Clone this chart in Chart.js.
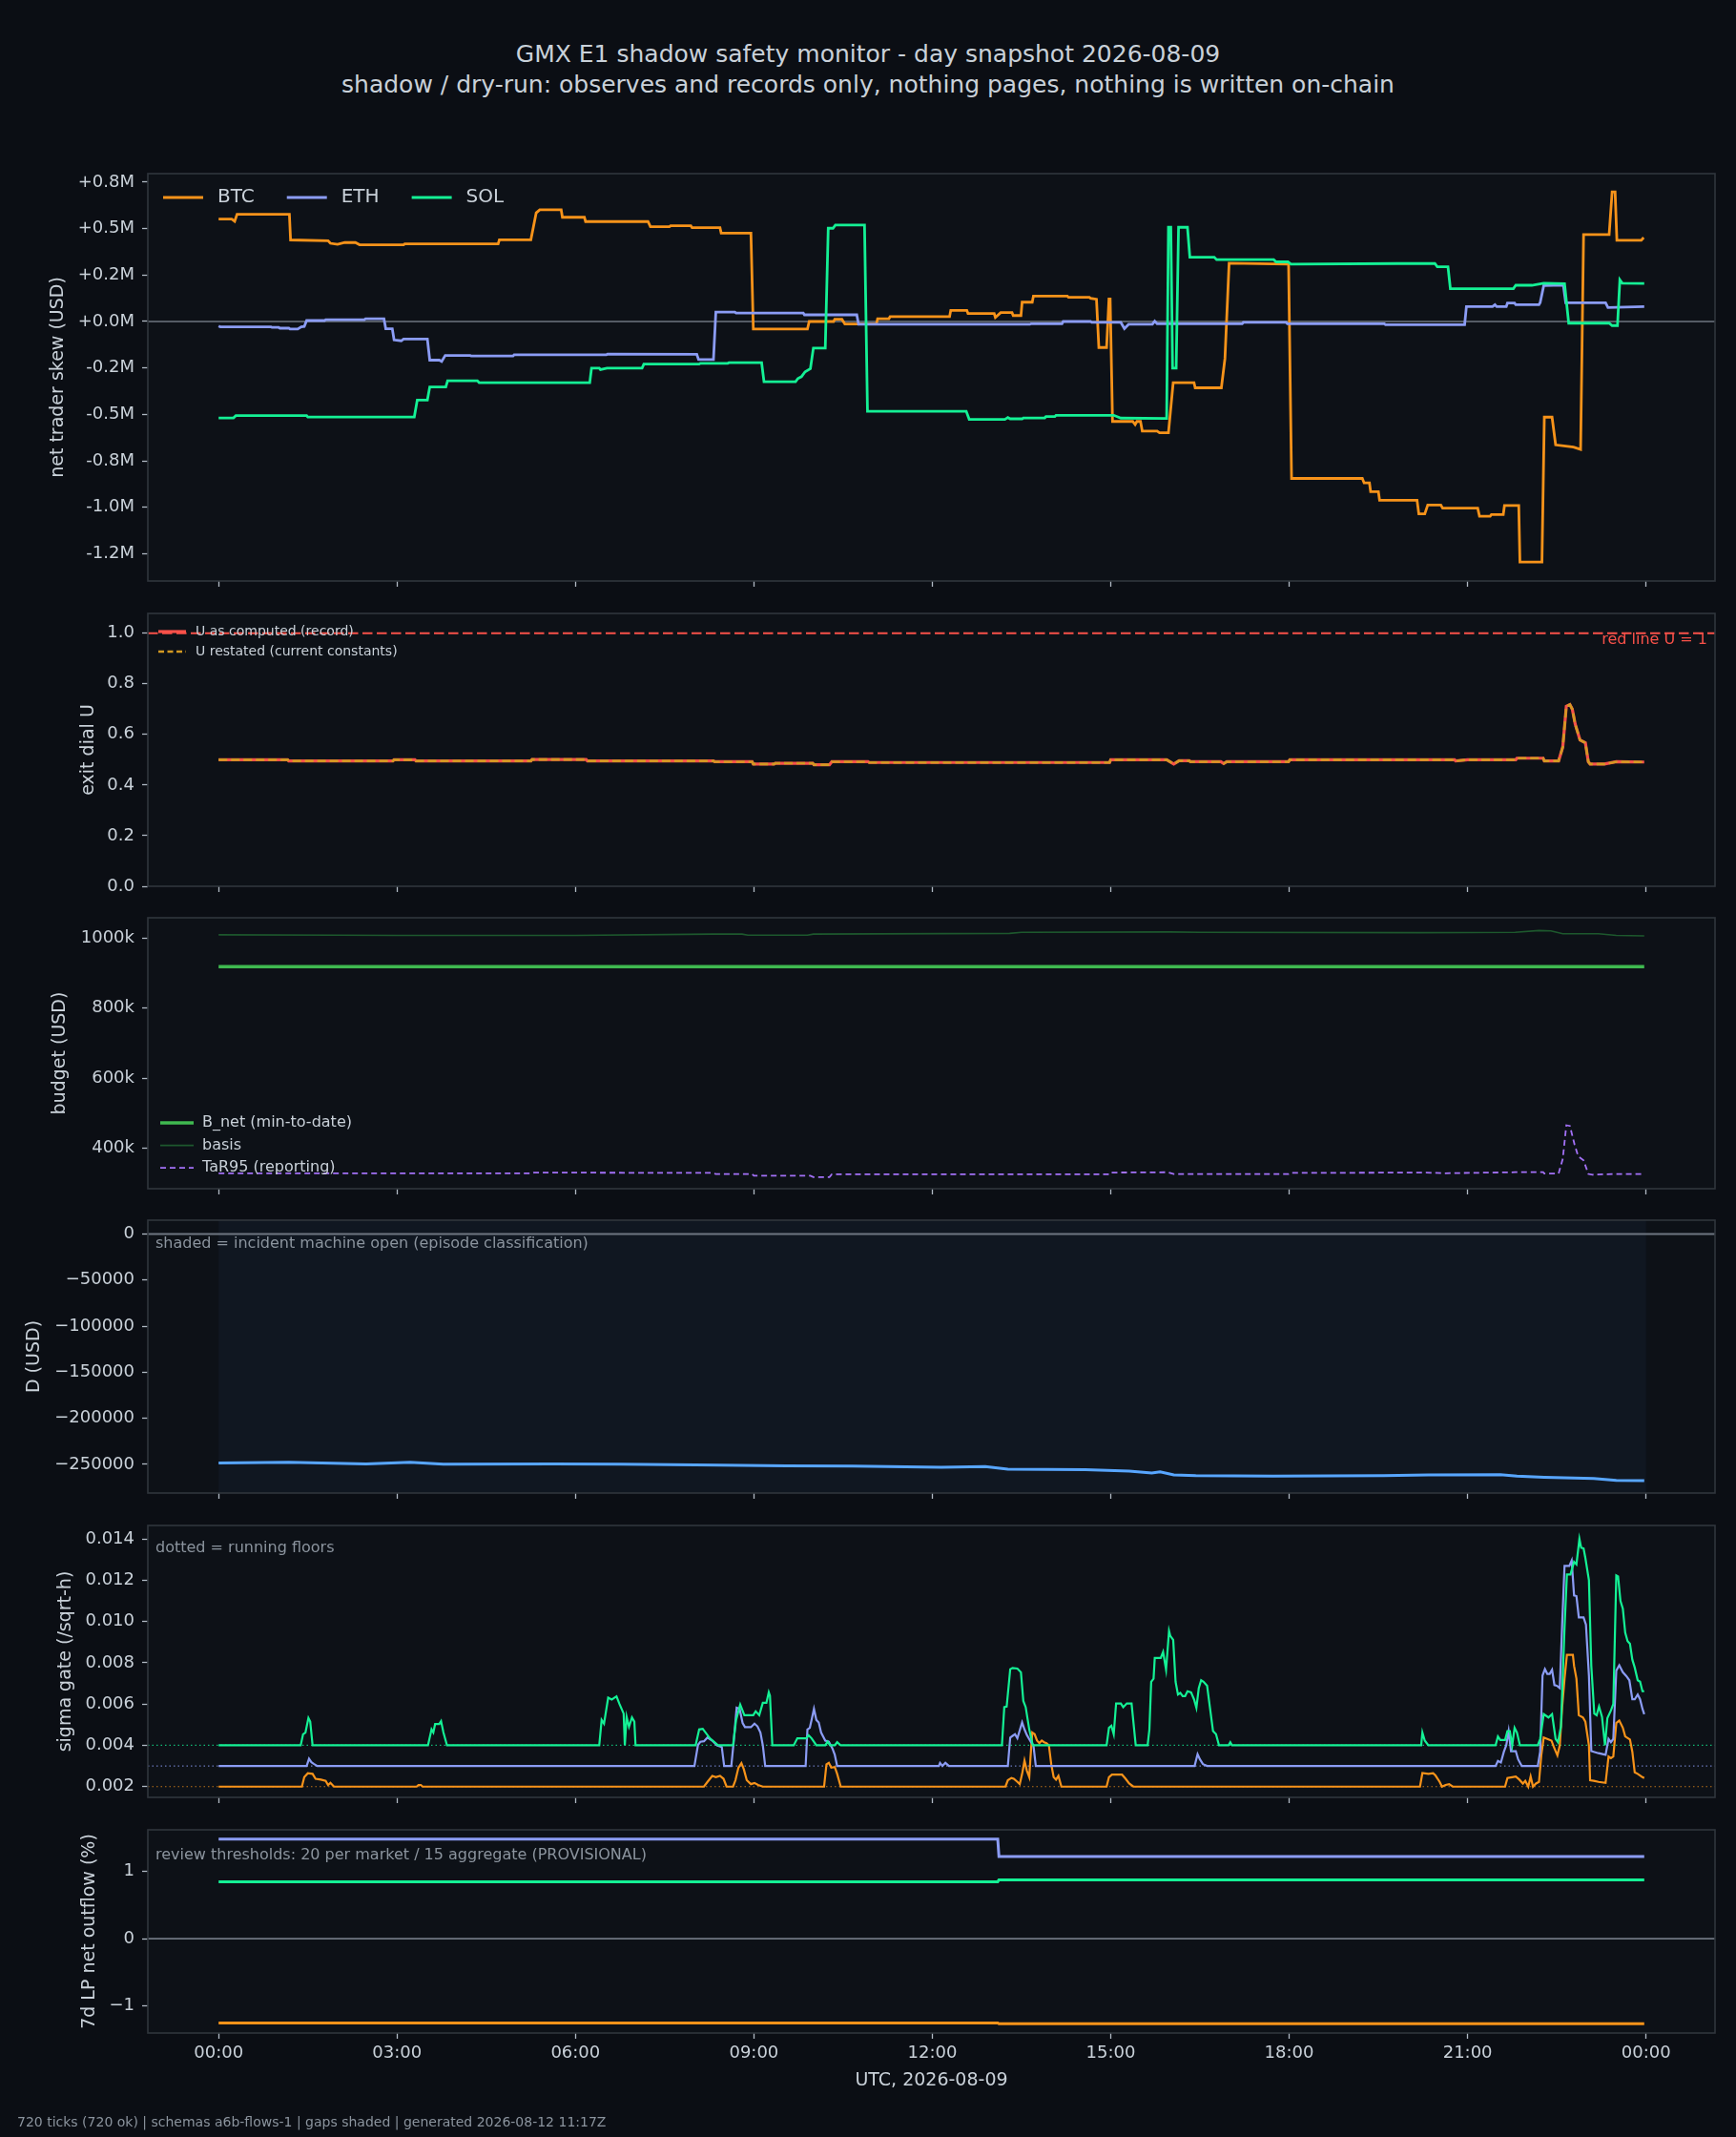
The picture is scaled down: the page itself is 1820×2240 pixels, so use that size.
<!DOCTYPE html>
<html lang="en">
<head>
<meta charset="UTF-8">
<title>GMX E1 shadow safety monitor</title>
<script src="https://cdn.jsdelivr.net/npm/chart.js"></script>
<style>
    body {
        margin: 0;
        width: 1820px;
        height: 2240px;
        position: relative;
        overflow: hidden;
        background: #0b0e14;
        font-family: "DejaVu Sans", sans-serif;
    }
    .title {
        position: absolute;
        left: 0;
        width: 1820px;
        text-align: center;
        color: #c9d1d9;
        font-size: 25px;
        line-height: 29px;
    }
    canvas {
        position: absolute;
        left: 0;
    }
    #footer {
        position: absolute;
        left: 18px;
        top: 2216px;
        font-size: 14px;
        line-height: 16px;
        color: #8b949e;
    }
</style>
</head>
<body>

<div class="title" style="top:42px">GMX E1 shadow safety monitor - day snapshot 2026-08-09</div>
<div class="title" style="top:74px">shadow / dry-run: observes and records only, nothing pages, nothing is written on-chain</div>

<canvas id="pSkew"></canvas>
<canvas id="pDial"></canvas>
<canvas id="pBudget"></canvas>
<canvas id="pD"></canvas>
<canvas id="pSigma"></canvas>
<canvas id="pFlow"></canvas>

<div id="footer">720 ticks (720 ok) | schemas a6b-flows-1 | gaps shaded | generated 2026-08-12 11:17Z</div>

<script>
// ---- data: [hour of day, value] ----

const timeTicks = [0, 3, 6, 9, 12, 15, 18, 21, 24];
const timeTickLabels = ['00:00', '03:00', '06:00', '09:00', '12:00', '15:00', '18:00', '21:00', '00:00'];

// net trader skew, millions of USD
const skewTicks = [0.75, 0.5, 0.25, 0, -0.25, -0.5, -0.75, -1.0, -1.25];
const skewTickLabels = ['+0.8M', '+0.5M', '+0.2M', '+0.0M', '-0.2M', '-0.5M', '-0.8M', '-1.0M', '-1.2M'];

const btcSkew = [
    [0, 0.551], [0.22, 0.551], [0.27, 0.539], [0.31, 0.577], [1.19, 0.577], [1.21, 0.439],
    [1.84, 0.435], [1.88, 0.421], [2.00, 0.415], [2.12, 0.425], [2.30, 0.425], [2.37, 0.413],
    [3.11, 0.413], [3.13, 0.418], [4.70, 0.418], [4.72, 0.440], [5.25, 0.440], [5.34, 0.585],
    [5.40, 0.601], [5.76, 0.601], [5.78, 0.561], [6.15, 0.561], [6.17, 0.538], [7.22, 0.538],
    [7.26, 0.510], [7.58, 0.510], [7.60, 0.515], [7.94, 0.515], [7.96, 0.505], [8.43, 0.505],
    [8.45, 0.476], [8.95, 0.476], [8.99, -0.041], [9.90, -0.041], [9.93, 0.0], [10.34, 0.0],
    [10.36, 0.012], [10.48, 0.012], [10.53, -0.014], [11.06, -0.014], [11.08, 0.015], [11.27, 0.015],
    [11.29, 0.026], [12.29, 0.026], [12.31, 0.060], [12.58, 0.060], [12.60, 0.043], [13.04, 0.043],
    [13.06, 0.022], [13.15, 0.048], [13.34, 0.048], [13.36, 0.032], [13.49, 0.032], [13.51, 0.104],
    [13.68, 0.104], [13.70, 0.137], [14.27, 0.137], [14.29, 0.130], [14.64, 0.130], [14.66, 0.125],
    [14.76, 0.120], [14.80, -0.140], [14.93, -0.140], [14.97, 0.121], [14.99, 0.121], [15.03, -0.538],
    [15.37, -0.538], [15.41, -0.555], [15.44, -0.538], [15.50, -0.538], [15.53, -0.590], [15.78, -0.590],
    [15.82, -0.599], [15.97, -0.599], [16.05, -0.329], [16.40, -0.329], [16.42, -0.357], [16.86, -0.357],
    [16.92, -0.200], [16.99, 0.314], [17.99, 0.309], [18.04, -0.845], [19.23, -0.845], [19.26, -0.869],
    [19.35, -0.869], [19.37, -0.916], [19.50, -0.916], [19.52, -0.962], [20.15, -0.962], [20.18, -1.036],
    [20.28, -1.036], [20.33, -0.988], [20.55, -0.988], [20.58, -1.005], [21.17, -1.005], [21.20, -1.048],
    [21.38, -1.048], [21.40, -1.039], [21.60, -1.039], [21.62, -0.991], [21.86, -0.991], [21.88, -1.295],
    [22.25, -1.295], [22.29, -0.515], [22.42, -0.515], [22.48, -0.664], [22.78, -0.676], [22.90, -0.689],
    [22.95, 0.468], [23.38, 0.468], [23.43, 0.698], [23.48, 0.698], [23.51, 0.437], [23.92, 0.437],
    [23.96, 0.452], [23.97, 0.452]
];
const ethSkew = [
    [0, -0.024], [0.03, -0.029], [0.88, -0.029], [0.90, -0.032], [1.01, -0.032], [1.03, -0.036],
    [1.18, -0.036], [1.20, -0.041], [1.33, -0.041], [1.39, -0.029], [1.44, -0.027], [1.48, 0.005],
    [1.78, 0.005], [1.80, 0.010], [2.45, 0.010], [2.47, 0.015], [2.78, 0.015], [2.81, -0.039],
    [2.92, -0.039], [2.95, -0.099], [3.07, -0.104], [3.11, -0.094], [3.51, -0.094], [3.55, -0.208],
    [3.71, -0.208], [3.75, -0.215], [3.81, -0.183], [4.23, -0.183], [4.25, -0.186], [4.95, -0.186],
    [4.97, -0.179], [6.52, -0.179], [6.54, -0.176], [8.04, -0.177], [8.07, -0.205], [8.32, -0.205],
    [8.36, 0.051], [8.68, 0.051], [8.70, 0.046], [9.83, 0.046], [9.85, 0.036], [10.73, 0.036],
    [10.76, -0.015], [13.64, -0.015], [13.66, -0.012], [14.18, -0.012], [14.20, 0.0], [14.66, 0.0],
    [14.68, -0.005], [15.17, -0.005], [15.23, -0.038], [15.30, -0.015], [15.70, -0.015], [15.74, 0.002],
    [15.78, -0.012], [17.21, -0.012], [17.23, -0.005], [17.95, -0.005], [17.97, -0.012], [19.60, -0.012],
    [19.62, -0.017], [20.95, -0.017], [20.98, 0.080], [21.42, 0.080], [21.46, 0.090], [21.49, 0.080],
    [21.65, 0.080], [21.67, 0.099], [21.79, 0.099], [21.81, 0.090], [22.20, 0.090], [22.22, 0.101],
    [22.28, 0.193], [22.61, 0.196], [22.65, 0.101], [23.32, 0.101], [23.36, 0.075], [23.97, 0.080]
];
const solSkew = [
    [0, -0.519], [0.25, -0.519], [0.29, -0.507], [1.48, -0.507], [1.50, -0.514], [3.29, -0.514],
    [3.34, -0.423], [3.51, -0.423], [3.55, -0.352], [3.82, -0.352], [3.85, -0.319], [4.35, -0.319],
    [4.38, -0.329], [6.24, -0.329], [6.27, -0.251], [6.40, -0.251], [6.42, -0.259], [6.53, -0.251],
    [7.12, -0.251], [7.15, -0.229], [8.08, -0.229], [8.10, -0.225], [8.56, -0.225], [8.58, -0.222],
    [9.13, -0.222], [9.17, -0.324], [9.70, -0.324], [9.74, -0.307], [9.80, -0.297], [9.86, -0.271],
    [9.95, -0.254], [10.00, -0.143], [10.20, -0.143], [10.25, 0.502], [10.33, 0.502], [10.37, 0.519],
    [10.86, 0.519], [10.91, -0.483], [12.57, -0.483], [12.62, -0.527], [13.22, -0.527], [13.27, -0.517],
    [13.31, -0.524], [13.51, -0.524], [13.53, -0.519], [13.89, -0.519], [13.91, -0.512], [14.06, -0.512],
    [14.08, -0.505], [15.05, -0.505], [15.17, -0.520], [15.94, -0.522], [15.97, 0.507], [16.01, 0.507],
    [16.04, -0.251], [16.10, -0.251], [16.14, 0.507], [16.29, 0.507], [16.33, 0.346], [16.74, 0.346],
    [16.78, 0.333], [17.74, 0.333], [17.78, 0.321], [17.98, 0.321], [18.03, 0.309], [19.82, 0.312],
    [20.45, 0.312], [20.49, 0.295], [20.67, 0.295], [20.71, 0.177], [21.77, 0.177], [21.81, 0.195],
    [22.08, 0.195], [22.28, 0.206], [22.63, 0.203], [22.70, -0.009], [23.38, -0.009], [23.43, -0.022],
    [23.52, -0.022], [23.56, 0.224], [23.60, 0.206], [23.97, 0.205]
];

// exit dial U
const dialTicks = [0, 0.2, 0.4, 0.6, 0.8, 1.0];
const dialTickLabels = ['0.0', '0.2', '0.4', '0.6', '0.8', '1.0'];
const redLineU = 1;
const uRecord = [
    [0, 0.500], [1.16, 0.500], [1.18, 0.495], [2.93, 0.495], [2.95, 0.500], [3.30, 0.500],
    [3.32, 0.495], [5.25, 0.495], [5.27, 0.501], [6.18, 0.501], [6.20, 0.495], [8.32, 0.495],
    [8.34, 0.492], [8.97, 0.492], [8.99, 0.483], [9.34, 0.483], [9.36, 0.486], [9.99, 0.486],
    [10.01, 0.480], [10.27, 0.480], [10.31, 0.492], [10.92, 0.492], [10.94, 0.489], [14.98, 0.489],
    [15.00, 0.500], [15.94, 0.500], [16.06, 0.483], [16.15, 0.496], [16.32, 0.496], [16.34, 0.492],
    [16.85, 0.492], [16.90, 0.485], [16.95, 0.492], [17.99, 0.492], [18.01, 0.500], [20.78, 0.500],
    [20.80, 0.495], [21.00, 0.500], [21.81, 0.500], [21.83, 0.506], [22.27, 0.506], [22.29, 0.495],
    [22.53, 0.495], [22.60, 0.550], [22.66, 0.711], [22.72, 0.718], [22.76, 0.700], [22.81, 0.640],
    [22.89, 0.578], [22.98, 0.567], [23.03, 0.492], [23.06, 0.483], [23.30, 0.483], [23.50, 0.492],
    [23.97, 0.491]
];
const uRestated = uRecord; // restated values coincide with the record on this day

// budget, thousands of USD
const budgetTicks = [400, 600, 800, 1000];
const budgetTickLabels = ['400k', '600k', '800k', '1000k'];
const bNet = [[0, 918], [23.97, 918]];
const basis = [
    [0, 1009], [2.0, 1008], [3.0, 1007], [6.0, 1007], [8.3, 1011], [8.8, 1011], [8.9, 1008],
    [9.9, 1008], [10.0, 1011], [13.3, 1013], [13.5, 1016], [16.0, 1017], [16.5, 1016], [20.2, 1015],
    [21.8, 1016], [22.2, 1021], [22.4, 1020], [22.6, 1012], [23.2, 1012], [23.5, 1007], [23.97, 1006]
];
const tar95 = [
    [0, 329], [5.27, 329], [5.30, 331], [8.30, 330], [8.36, 327], [8.97, 327], [9.00, 322],
    [9.95, 322], [10.00, 318], [10.27, 318], [10.31, 326], [14.98, 326], [15.00, 331], [15.96, 332],
    [16.06, 327], [17.99, 327], [18.01, 330], [20.30, 331], [20.60, 329], [21.80, 332], [22.27, 332],
    [22.29, 328], [22.53, 328], [22.60, 370], [22.66, 466], [22.72, 464], [22.80, 410], [22.86, 377],
    [22.95, 366], [23.03, 327], [23.10, 325], [23.50, 327], [23.97, 327]
];

// D, USD
const dTicks = [0, -50000, -100000, -150000, -200000, -250000];
const dTickLabels = ['0', '\u221250000', '\u2212100000', '\u2212150000', '\u2212200000', '\u2212250000'];
const incidentOpen = [0, 24];
const dSeries = [
    [0, -248600], [1.18, -247800], [2.48, -249400], [3.22, -247800], [3.78, -249800], [5.64, -249400],
    [6.76, -249800], [8.43, -250700], [9.55, -251500], [10.66, -251900], [12.15, -253200], [12.89, -252400],
    [13.27, -255300], [14.57, -255700], [14.94, -256500], [15.31, -257300], [15.69, -259400], [15.83, -258200],
    [16.06, -261500], [16.43, -262300], [17.73, -262700], [19.59, -262300], [20.34, -261500], [21.55, -261100],
    [21.83, -262700], [22.29, -264000], [23.12, -265200], [23.50, -267300], [23.97, -267700]
];

// sigma gate, /sqrt-h
const sigmaTicks = [0.002, 0.004, 0.006, 0.008, 0.010, 0.012, 0.014];
const sigmaTickLabels = ['0.002', '0.004', '0.006', '0.008', '0.010', '0.012', '0.014'];
const btcFloor = 0.002, ethFloor = 0.003, solFloor = 0.004;
const btcSigma = [
    [0, 0.002], [1.40, 0.002], [1.44, 0.00246], [1.50, 0.00265], [1.58, 0.00262], [1.63, 0.00238],
    [1.72, 0.00234], [1.80, 0.00228], [1.84, 0.00208], [1.88, 0.00218], [1.94, 0.002],
    [3.33, 0.002], [3.36, 0.00208], [3.40, 0.00208], [3.43, 0.002],
    [8.16, 0.002], [8.22, 0.00223], [8.30, 0.00252], [8.36, 0.00246], [8.43, 0.00252], [8.49, 0.00238],
    [8.54, 0.002], [8.65, 0.002], [8.69, 0.00231], [8.74, 0.00292], [8.79, 0.00314], [8.83, 0.00285],
    [8.88, 0.00231], [8.95, 0.00212], [9.01, 0.00218], [9.07, 0.00208], [9.15, 0.002],
    [10.18, 0.002], [10.22, 0.00308], [10.26, 0.00315], [10.30, 0.00292], [10.36, 0.00295], [10.40, 0.00262],
    [10.46, 0.002],
    [13.23, 0.002], [13.27, 0.00231], [13.33, 0.00242], [13.37, 0.00238], [13.43, 0.00223], [13.47, 0.00212],
    [13.51, 0.00262], [13.55, 0.00326], [13.59, 0.00277], [13.63, 0.00246], [13.65, 0.00338], [13.68, 0.00462],
    [13.72, 0.00454], [13.76, 0.00423], [13.80, 0.00411], [13.84, 0.00423], [13.88, 0.00415], [13.92, 0.00411],
    [13.96, 0.004], [14.00, 0.00308], [14.04, 0.00246], [14.08, 0.00234], [14.12, 0.00252], [14.17, 0.002],
    [14.93, 0.002], [14.97, 0.00246], [15.02, 0.00258], [15.19, 0.00258], [15.25, 0.00238], [15.31, 0.00215],
    [15.38, 0.002],
    [20.20, 0.002], [20.24, 0.00266], [20.34, 0.00262], [20.42, 0.00265], [20.46, 0.00254], [20.53, 0.00223],
    [20.57, 0.002], [20.63, 0.00208], [20.69, 0.00212], [20.75, 0.002],
    [21.63, 0.002], [21.67, 0.00242], [21.75, 0.00246], [21.81, 0.00249], [21.87, 0.00234], [21.93, 0.00215],
    [21.97, 0.00228], [22.02, 0.002], [22.06, 0.00249], [22.10, 0.002], [22.15, 0.00215], [22.20, 0.00223],
    [22.24, 0.00354], [22.28, 0.00438], [22.34, 0.00431], [22.41, 0.00423], [22.45, 0.00392], [22.51, 0.00351],
    [22.55, 0.004], [22.59, 0.00585], [22.63, 0.00723], [22.67, 0.00838], [22.77, 0.00838], [22.79, 0.00785],
    [22.83, 0.00723], [22.87, 0.00546], [22.94, 0.00535], [22.98, 0.00515], [23.04, 0.004], [23.06, 0.00231],
    [23.12, 0.00228], [23.20, 0.00223], [23.32, 0.00218], [23.37, 0.00346], [23.41, 0.00338], [23.45, 0.00346],
    [23.50, 0.00508], [23.55, 0.0052], [23.61, 0.00485], [23.65, 0.00443], [23.73, 0.00428], [23.77, 0.00369],
    [23.81, 0.00269], [23.86, 0.00262], [23.90, 0.00254], [23.94, 0.00246], [23.97, 0.00242]
];
const ethSigma = [
    [0, 0.003], [1.48, 0.003], [1.52, 0.00335], [1.56, 0.00318], [1.60, 0.0031], [1.66, 0.003],
    [8.00, 0.003], [8.06, 0.00402], [8.10, 0.00417], [8.16, 0.0042], [8.22, 0.00438], [8.30, 0.00423],
    [8.38, 0.004], [8.46, 0.00392], [8.50, 0.003], [8.62, 0.003], [8.66, 0.00417], [8.71, 0.00582],
    [8.76, 0.00577], [8.81, 0.00508], [8.85, 0.00488], [8.95, 0.00488], [9.01, 0.00505], [9.06, 0.00492],
    [9.11, 0.00462], [9.15, 0.004], [9.19, 0.003],
    [9.87, 0.003], [9.90, 0.00477], [9.94, 0.00485], [9.97, 0.00523], [10.01, 0.00577], [10.05, 0.00523],
    [10.09, 0.00511], [10.13, 0.00462], [10.20, 0.00423], [10.26, 0.00418], [10.32, 0.00385], [10.36, 0.00354],
    [10.40, 0.003],
    [12.11, 0.003], [12.13, 0.00315], [12.17, 0.003], [12.22, 0.00315], [12.28, 0.003],
    [13.27, 0.003], [13.31, 0.00438], [13.35, 0.00446], [13.39, 0.00454], [13.43, 0.00434], [13.51, 0.00511],
    [13.55, 0.00477], [13.59, 0.0045], [13.66, 0.00415], [13.70, 0.004], [13.74, 0.003],
    [16.41, 0.003], [16.46, 0.00357], [16.50, 0.00332], [16.55, 0.00309], [16.62, 0.003],
    [21.47, 0.003], [21.51, 0.00325], [21.56, 0.00317], [21.61, 0.00369], [21.65, 0.004], [21.69, 0.00469],
    [21.73, 0.00372], [21.81, 0.00372], [21.85, 0.00332], [21.91, 0.003],
    [22.18, 0.003], [22.22, 0.00369], [22.26, 0.00738], [22.30, 0.00769], [22.34, 0.00746], [22.38, 0.00746],
    [22.42, 0.00766], [22.46, 0.00692], [22.50, 0.00689], [22.55, 0.00677], [22.59, 0.00985], [22.63, 0.01269],
    [22.71, 0.01269], [22.75, 0.01295], [22.79, 0.01126], [22.83, 0.01123], [22.87, 0.0102], [22.95, 0.0102],
    [22.99, 0.00985], [23.04, 0.00738], [23.08, 0.00372], [23.20, 0.00362], [23.32, 0.00354], [23.37, 0.00431],
    [23.41, 0.00415], [23.45, 0.00431], [23.50, 0.00762], [23.55, 0.00788], [23.61, 0.00754], [23.67, 0.00735],
    [23.72, 0.00715], [23.77, 0.00623], [23.81, 0.00623], [23.86, 0.00646], [23.90, 0.00623], [23.94, 0.00577],
    [23.97, 0.00551]
];
const solSigma = [
    [0, 0.004], [1.38, 0.004], [1.42, 0.00454], [1.46, 0.00462], [1.51, 0.00532], [1.54, 0.00515], [1.58, 0.004],
    [3.52, 0.004], [3.58, 0.00477], [3.61, 0.00462], [3.64, 0.00503], [3.71, 0.00503], [3.74, 0.00517],
    [3.78, 0.00462], [3.84, 0.004],
    [6.40, 0.004], [6.44, 0.00523], [6.48, 0.00505], [6.55, 0.00631], [6.61, 0.00622], [6.69, 0.00637],
    [6.74, 0.006], [6.81, 0.00554], [6.83, 0.004], [6.86, 0.00538], [6.90, 0.0049], [6.95, 0.00535],
    [6.99, 0.00515], [7.01, 0.004],
    [8.02, 0.004], [8.08, 0.00477], [8.14, 0.0048], [8.26, 0.00434], [8.34, 0.00415], [8.40, 0.004],
    [8.65, 0.004], [8.70, 0.00523], [8.77, 0.00597], [8.84, 0.00546], [8.99, 0.00546], [9.03, 0.00565],
    [9.09, 0.00546], [9.15, 0.00606], [9.21, 0.00606], [9.25, 0.00657], [9.27, 0.0064], [9.31, 0.004],
    [9.67, 0.004], [9.73, 0.00434], [9.88, 0.00434], [9.92, 0.00449], [9.97, 0.00434], [10.05, 0.004],
    [10.20, 0.004], [10.24, 0.00418], [10.28, 0.004], [10.36, 0.004], [10.40, 0.00415], [10.46, 0.004],
    [13.17, 0.004], [13.21, 0.00585], [13.25, 0.00588], [13.31, 0.00769], [13.35, 0.00775], [13.43, 0.00772],
    [13.49, 0.00754], [13.53, 0.00615], [13.57, 0.00585], [13.63, 0.00477], [13.69, 0.004],
    [14.93, 0.004], [14.97, 0.00485], [15.01, 0.00495], [15.05, 0.00454], [15.09, 0.00603], [15.17, 0.00603],
    [15.21, 0.00585], [15.27, 0.00603], [15.35, 0.00603], [15.42, 0.004],
    [15.62, 0.004], [15.65, 0.00477], [15.68, 0.00708], [15.72, 0.00723], [15.74, 0.00823], [15.84, 0.00823],
    [15.88, 0.00852], [15.93, 0.00766], [15.98, 0.00954], [16.00, 0.00931], [16.05, 0.00911], [16.09, 0.00708],
    [16.13, 0.00646], [16.17, 0.00654], [16.21, 0.00638], [16.25, 0.00638], [16.29, 0.00662], [16.35, 0.00657],
    [16.40, 0.00623], [16.44, 0.00582], [16.48, 0.00677], [16.52, 0.00715], [16.56, 0.00708], [16.62, 0.00689],
    [16.66, 0.006], [16.72, 0.00469], [16.77, 0.00454], [16.82, 0.004], [16.98, 0.004], [17.01, 0.00415],
    [17.04, 0.004],
    [20.22, 0.004], [20.24, 0.00462], [20.28, 0.00423], [20.34, 0.004],
    [21.47, 0.004], [21.51, 0.00443], [21.55, 0.00426], [21.63, 0.00426], [21.67, 0.00469], [21.71, 0.00469],
    [21.75, 0.004], [21.79, 0.00485], [21.83, 0.00462], [21.88, 0.004],
    [22.18, 0.004], [22.22, 0.00431], [22.28, 0.00551], [22.36, 0.00535], [22.42, 0.00551], [22.48, 0.00431],
    [22.52, 0.00415], [22.57, 0.00492], [22.63, 0.00969], [22.67, 0.01228], [22.73, 0.01228], [22.79, 0.01289],
    [22.83, 0.01277], [22.88, 0.0140], [22.91, 0.01357], [22.95, 0.01354], [22.98, 0.01308], [23.04, 0.0120],
    [23.08, 0.00785], [23.13, 0.00554], [23.17, 0.00546], [23.21, 0.00588], [23.26, 0.00538], [23.31, 0.004],
    [23.35, 0.00531], [23.41, 0.00569], [23.45, 0.006], [23.50, 0.01223], [23.53, 0.01218], [23.57, 0.011],
    [23.61, 0.01062], [23.65, 0.00946], [23.69, 0.00905], [23.73, 0.00892], [23.77, 0.00815], [23.81, 0.00777],
    [23.86, 0.00715], [23.90, 0.00708], [23.94, 0.00662], [23.97, 0.00662]
];

// 7d LP net outflow, percent
const flowTicks = [-1, 0, 1];
const flowTickLabels = ['\u22121', '0', '1'];
const btcFlow = [[0, -1.255], [13.10, -1.255], [13.12, -1.269], [23.97, -1.269]];
const ethFlow = [[0, 1.485], [13.10, 1.485], [13.12, 1.225], [23.97, 1.225]];
const solFlow = [[0, 0.849], [13.10, 0.849], [13.12, 0.877], [23.97, 0.877]];

// ---- look ----
const FONT = '"DejaVu Sans", sans-serif';
const TEXT = '#c9d1d9';
const MUTED = '#8b949e';
const SPINE = '#30363d';
const TICK = '#b1bac4';
const AX_BG = '#0d1117';
const ZERO = '#6e7681';
const BTC = '#f7931a', ETH = '#8b9cf4', SOL = '#14f195';
const RED = '#f85149', GOLD = '#d29922';
const PLOT_LEFT = 155, PLOT_RIGHT = 1798, TOP_PAD = 30;
const X_MIN = -1.19, X_MAX = 25.16;
const LABEL_SIZE = 19;

const pts = arr => arr.map(([x, y]) => ({ x, y }));
const hline = v => [{ x: X_MIN, y: v }, { x: X_MAX, y: v }];

function series(label, data, color, width, extra) {
    return Object.assign({
        label: label,
        data: pts(data),
        borderColor: color,
        borderWidth: width,
        pointRadius: 0,
        fill: false,
        tension: 0
    }, extra || {});
}

function refLine(value, color, width, dash, order) {
    return {
        label: '',
        data: hline(value),
        borderColor: color,
        borderWidth: width,
        borderDash: dash,
        pointRadius: 0,
        fill: false,
        order: order
    };
}

// backgrounds, spines, notes and in-axes legends
function panelDecor(o) {
    return {
        id: 'decor',
        beforeDraw(chart) {
            const { ctx, chartArea: a, scales } = chart;
            ctx.save();
            ctx.fillStyle = AX_BG;
            ctx.fillRect(a.left, a.top, a.right - a.left, a.bottom - a.top);
            if (o.shade) {
                const x0 = scales.x.getPixelForValue(o.shade[0]);
                const x1 = scales.x.getPixelForValue(o.shade[1]);
                ctx.fillStyle = 'rgba(88,166,255,0.045)';
                ctx.fillRect(x0, a.top, x1 - x0, a.bottom - a.top);
            }
            ctx.restore();
        },
        afterDatasetsDraw(chart) {
            const { ctx, chartArea: a } = chart;
            ctx.save();
            ctx.strokeStyle = SPINE;
            ctx.lineWidth = 1.6;
            ctx.strokeRect(a.left, a.top, a.right - a.left, a.bottom - a.top);
            ctx.restore();
        },
        afterDraw(chart) {
            const { ctx, chartArea: a, scales } = chart;
            ctx.save();
            (o.notes || []).forEach(n => {
                ctx.font = n.size + 'px ' + FONT;
                ctx.fillStyle = n.color;
                ctx.textBaseline = 'middle';
                const y = n.atValue !== undefined ? scales.y.getPixelForValue(n.atValue) + n.dy : a.top + n.dy;
                if (n.right) {
                    ctx.textAlign = 'right';
                    ctx.fillText(n.text, a.right - n.dx, y);
                } else {
                    ctx.textAlign = 'left';
                    ctx.fillText(n.text, a.left + n.dx, y);
                }
            });
            const lg = o.legend;
            if (lg) {
                ctx.font = lg.size + 'px ' + FONT;
                ctx.textBaseline = 'middle';
                ctx.textAlign = 'left';
                let x = a.left + lg.dx;
                lg.items.forEach((ds, i) => {
                    const y = a.top + lg.dy + (lg.horizontal ? 0 : i * lg.pitch);
                    const x0 = lg.horizontal ? x : a.left + lg.dx;
                    ctx.strokeStyle = ds.borderColor;
                    ctx.lineWidth = ds.borderWidth;
                    ctx.setLineDash(ds.legendDash || ds.borderDash || []);
                    ctx.beginPath();
                    ctx.moveTo(x0, y);
                    ctx.lineTo(x0 + lg.handle, y);
                    ctx.stroke();
                    ctx.setLineDash([]);
                    ctx.fillStyle = TEXT;
                    ctx.fillText(ds.label, x0 + lg.handle + lg.gap, y);
                    x = x0 + lg.handle + lg.gap + ctx.measureText(ds.label).width + lg.colGap;
                });
            }
            ctx.restore();
        }
    };
}

function makePanel(id, top, bottom, o) {
    const xh = o.xTitle ? 100 : 30;
    const cv = document.getElementById(id);
    cv.width = 1820;
    cv.height = bottom - top + TOP_PAD + xh;
    cv.style.top = (top - TOP_PAD) + 'px';

    return new Chart(cv, {
        type: 'line',
        data: { datasets: o.datasets },
        options: {
            responsive: false,
            animation: false,
            events: [],
            layout: { padding: { top: TOP_PAD, right: 1820 - PLOT_RIGHT, bottom: 0, left: 0 } },
            plugins: { legend: { display: false }, tooltip: { enabled: false } },
            scales: {
                x: {
                    type: 'linear',
                    min: X_MIN,
                    max: X_MAX,
                    afterBuildTicks: s => { s.ticks = timeTicks.map(v => ({ value: v })); },
                    afterFit: s => { s.height = xh; },
                    grid: { drawOnChartArea: false, drawTicks: true, tickLength: 6, tickColor: TICK, tickWidth: 1.3 },
                    border: { display: false },
                    ticks: {
                        display: !!o.xTitle,
                        color: TEXT,
                        font: { family: FONT, size: 18 },
                        padding: 5,
                        maxRotation: 0,
                        autoSkip: false,
                        callback: (v, i) => timeTickLabels[i]
                    },
                    title: {
                        display: !!o.xTitle,
                        text: o.xTitle || '',
                        color: TEXT,
                        font: { family: FONT, size: LABEL_SIZE },
                        padding: { top: 0, bottom: 39 }
                    }
                },
                y: {
                    type: 'linear',
                    min: o.yMin,
                    max: o.yMax,
                    afterBuildTicks: s => { s.ticks = o.yTicks.map(v => ({ value: v })); },
                    afterFit: s => { s.width = PLOT_LEFT; },
                    grid: { drawOnChartArea: false, drawTicks: true, tickLength: 6, tickColor: TICK, tickWidth: 1.3 },
                    border: { display: false },
                    ticks: {
                        color: TEXT,
                        font: { family: FONT, size: 18 },
                        padding: 8,
                        autoSkip: false,
                        callback: (v, i) => o.yLabels[i]
                    },
                    title: {
                        display: true,
                        text: o.yTitle,
                        color: TEXT,
                        font: { family: FONT, size: LABEL_SIZE },
                        padding: { top: o.yTitleX - LABEL_SIZE * 0.6, bottom: 0 }
                    }
                }
            }
        },
        plugins: [panelDecor(o)]
    });
}

// ---- panels ----
const skewBtc = series('BTC', btcSkew, BTC, 2.8, { order: 3 });
const skewEth = series('ETH', ethSkew, ETH, 2.8, { order: 2 });
const skewSol = series('SOL', solSkew, SOL, 2.8, { order: 1 });
makePanel('pSkew', 182, 609, {
    datasets: [skewBtc, skewEth, skewSol, refLine(0, ZERO, 1.4, [], 10)],
    yMin: -1.397, yMax: 0.796,
    yTicks: skewTicks, yLabels: skewTickLabels,
    yTitle: 'net trader skew (USD)', yTitleX: 61,
    legend: { items: [skewBtc, skewEth, skewSol], horizontal: true, dx: 16, dy: 25, size: 20, handle: 42, gap: 15, colGap: 34 }
});

const dialRec = series('U as computed (record)', uRecord, RED, 3.2, { order: 2 });
const dialRst = series('U restated (current constants)', uRestated, GOLD, 2.6, { order: 1, borderDash: [9, 4], legendDash: [6, 3.5] });
makePanel('pDial', 643, 929, {
    datasets: [dialRec, dialRst, refLine(redLineU, RED, 2, [10.5, 4.5], 5)],
    yMin: 0, yMax: 1.078,
    yTicks: dialTicks, yLabels: dialTickLabels,
    yTitle: 'exit dial U', yTitleX: 93,
    legend: { items: [dialRec, dialRst], dx: 11, dy: 19, pitch: 21, size: 14, handle: 29, gap: 10, colGap: 0 },
    notes: [{ text: 'red line U = 1', color: RED, size: 16, right: true, dx: 8, atValue: redLineU, dy: 7 }]
});

const budNet = series('B_net (min-to-date)', bNet, '#3fb950', 3.4, { order: 1 });
const budBasis = series('basis', basis, 'rgba(46,160,67,0.5)', 1.6, { order: 2 });
const budTar = series('TaR95 (reporting)', tar95, '#a371f7', 1.8, { order: 3, borderDash: [6, 4] });
makePanel('pBudget', 962, 1246, {
    datasets: [budNet, budBasis, budTar],
    yMin: 285, yMax: 1057.5,
    yTicks: budgetTicks, yLabels: budgetTickLabels,
    yTitle: 'budget (USD)', yTitleX: 63,
    legend: { items: [budNet, budBasis, budTar], dx: 13, dy: 215, pitch: 23.6, size: 16, handle: 35, gap: 9, colGap: 0 }
});

makePanel('pD', 1279, 1565, {
    datasets: [series('D', dSeries, '#58a6ff', 3, { order: 1 }), refLine(0, ZERO, 1.8, [], 5)],
    yMin: -281100, yMax: 15000,
    yTicks: dTicks, yLabels: dTickLabels,
    yTitle: 'D (USD)', yTitleX: 36,
    shade: incidentOpen,
    notes: [{ text: 'shaded = incident machine open (episode classification)', color: MUTED, size: 16, dx: 8, dy: 25 }]
});

makePanel('pSigma', 1599, 1884, {
    datasets: [
        series('SOL', solSigma, SOL, 2.2, { order: 1 }),
        series('ETH', ethSigma, ETH, 2.2, { order: 2 }),
        series('BTC', btcSigma, BTC, 2.2, { order: 3 }),
        refLine(solFloor, 'rgba(20,241,149,0.75)', 1.2, [1.5, 3], 6),
        refLine(ethFloor, 'rgba(139,156,244,0.75)', 1.2, [1.5, 3], 7),
        refLine(btcFloor, 'rgba(247,147,26,0.75)', 1.2, [1.5, 3], 8)
    ],
    yMin: 0.00148, yMax: 0.01465,
    yTicks: sigmaTicks, yLabels: sigmaTickLabels,
    yTitle: 'sigma gate (/sqrt-h)', yTitleX: 69,
    notes: [{ text: 'dotted = running floors', color: MUTED, size: 16, dx: 8, dy: 24 }]
});

makePanel('pFlow', 1918, 2131, {
    datasets: [
        series('BTC', btcFlow, BTC, 3, { order: 3 }),
        series('ETH', ethFlow, ETH, 3, { order: 2 }),
        series('SOL', solFlow, SOL, 3, { order: 1 }),
        refLine(0, ZERO, 1.6, [], 5)
    ],
    yMin: -1.406, yMax: 1.622,
    yTicks: flowTicks, yLabels: flowTickLabels,
    yTitle: '7d LP net outflow (%)', yTitleX: 94,
    xTitle: 'UTC, 2026-08-09',
    notes: [{ text: 'review thresholds: 20 per market / 15 aggregate (PROVISIONAL)', color: MUTED, size: 16, dx: 8, dy: 27 }]
});
</script>

</body>
</html>
